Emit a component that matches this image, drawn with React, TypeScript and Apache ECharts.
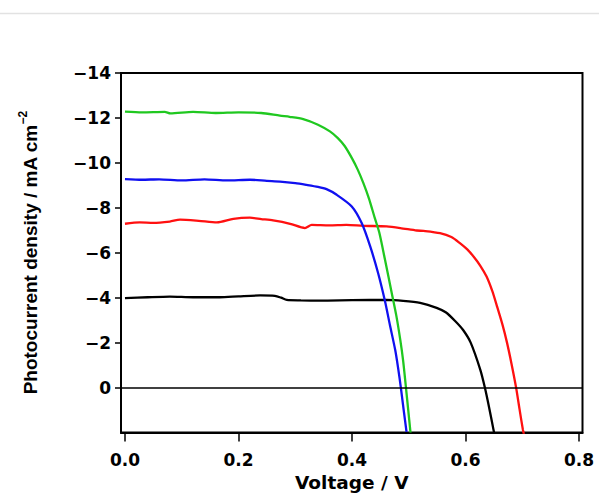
import React, { useEffect, useRef } from "react";
import * as echarts from "echarts";

// Voltage (V) / photocurrent density (mA cm^-2) pairs
const greenV = [0, 0.03, 0.07, 0.08, 0.12, 0.16, 0.2, 0.24, 0.273, 0.29, 0.314, 0.34, 0.361, 0.375, 0.387, 0.4, 0.41, 0.42, 0.43, 0.44, 0.448, 0.458, 0.47, 0.478, 0.485, 0.49, 0.495, 0.499, 0.503];
const greenJ = [-12.28, -12.25, -12.27, -12.2, -12.27, -12.22, -12.25, -12.22, -12.1, -12.05, -11.95, -11.7, -11.4, -11.1, -10.75, -10.2, -9.7, -9.1, -8.4, -7.55, -6.9, -5.7, -4.2, -3.2, -2.12, -1.2, 0, 1.0, 2.0];

const blueV = [0, 0.03, 0.06, 0.1, 0.14, 0.18, 0.22, 0.25, 0.273, 0.3, 0.32, 0.34, 0.355, 0.373, 0.3995, 0.417, 0.432, 0.446, 0.458, 0.467, 0.476, 0.481, 0.486, 0.491, 0.496];
const blueJ = [-9.28, -9.25, -9.27, -9.22, -9.27, -9.22, -9.25, -9.2, -9.17, -9.1, -9.02, -8.93, -8.83, -8.58, -8.06, -7.32, -6.28, -5.09, -3.85, -2.75, -1.68, -0.9, 0, 1.0, 1.97];

const redV = [0, 0.026, 0.05, 0.079, 0.097, 0.13, 0.162, 0.191, 0.22, 0.24, 0.261, 0.291, 0.317, 0.329, 0.36, 0.39, 0.42, 0.461, 0.485, 0.514, 0.526, 0.555, 0.575, 0.59, 0.603, 0.614, 0.626, 0.637, 0.647, 0.655, 0.665, 0.673, 0.681, 0.689, 0.695, 0.701, 0.703];
const redJ = [-7.29, -7.35, -7.33, -7.39, -7.47, -7.42, -7.35, -7.51, -7.56, -7.5, -7.44, -7.29, -7.1, -7.24, -7.22, -7.24, -7.2, -7.17, -7.1, -6.99, -6.97, -6.87, -6.7, -6.43, -6.15, -5.83, -5.42, -4.94, -4.3, -3.65, -2.8, -2.0, -1.05, 0, 0.95, 1.88, 2.1];

const blackV = [0, 0.04, 0.079, 0.12, 0.167, 0.2, 0.238, 0.264, 0.275, 0.285, 0.31, 0.344, 0.4, 0.461, 0.49, 0.52, 0.549, 0.565, 0.582, 0.596, 0.609, 0.626, 0.634, 0.642, 0.649, 0.651];
const blackJ = [-3.98, -4.02, -4.05, -4.02, -4.02, -4.06, -4.1, -4.08, -4.0, -3.9, -3.88, -3.87, -3.89, -3.9, -3.86, -3.77, -3.55, -3.35, -2.95, -2.55, -2.0, -0.79, 0, 0.95, 1.85, 2.1];

const xTicks = [0, 0.2, 0.4, 0.6, 0.8];
const yTicks = [-14, -12, -10, -8, -6, -4, -2, 0];

const pairs = (xs: number[], ys: number[]) => xs.map((x, i) => [x, ys[i]]);

export default function App() {
  const ref = useRef<HTMLDivElement>(null);
  useEffect(() => {
    if (!ref.current) return;
    const chart = echarts.init(ref.current, null, { renderer: "svg" });
    const tickFont = { fontFamily: "DejaVu Sans", fontWeight: "bold" as const, fontSize: 17, color: "#000" };
    const mkSeries = (name: string, color: string, xs: number[], ys: number[]) => ({
      name,
      type: "line",
      data: pairs(xs, ys),
      showSymbol: false,
      smooth: 0.25,
      lineStyle: { color, width: 2.3 },
      z: 3,
    });
    chart.setOption({
      animation: false,
      backgroundColor: "#fff",
      grid: {
        left: 121,
        top: 73,
        right: 16.5,
        bottom: 61.5,
        outerBoundsMode: "none",
        containLabel: false,
        show: true,
        borderColor: "#000",
        borderWidth: 2,
        backgroundColor: "transparent",
      },
      xAxis: {
        type: "value",
        min: -0.007,
        max: 0.806,
        name: "Voltage / V",
        nameLocation: "middle",
        nameGap: 38,
        nameTextStyle: { fontFamily: "DejaVu Sans", fontWeight: "bold", fontSize: 18.5, color: "#000" },
        axisLine: { show: true, onZero: false, lineStyle: { color: "#000", width: 2 } },
        axisTick: { show: true, customValues: xTicks, length: 9, lineStyle: { color: "#000", width: 1.5 } },
        axisLabel: { customValues: xTicks, margin: 19, ...tickFont, formatter: (v: number) => v.toFixed(1) },
        splitLine: { show: false },
      },
      yAxis: {
        type: "value",
        inverse: true,
        min: -14,
        max: 2,
        interval: 2,
        name: "{a|Photocurrent density / mA cm}{s|−2}",
        nameLocation: "middle",
        nameGap: 78,
        nameRotate: 90,
        nameTextStyle: {
          rich: {
            a: { fontFamily: "Liberation Sans", fontWeight: "bold", fontSize: 19, color: "#000", lineHeight: 26 },
            s: { fontFamily: "Liberation Sans", fontWeight: "bold", fontSize: 12, color: "#000", verticalAlign: "top", lineHeight: 14 },
          },
        },
        axisLine: { show: true, onZero: false, lineStyle: { color: "#000", width: 2 } },
        axisTick: { show: true, customValues: yTicks, length: 6, lineStyle: { color: "#000", width: 1.5 } },
        axisLabel: {
          customValues: yTicks,
          margin: 10,
          ...tickFont,
          formatter: (v: number) => (v === 0 ? "0" : (v < 0 ? "−" : "") + Math.abs(v)),
        },
        splitLine: { show: false },
      },
      graphic: [
        {
          type: "line",
          shape: { x1: 0, y1: 13.5, x2: 599, y2: 13.5 },
          style: { stroke: "#e2e2e2", lineWidth: 1.5 },
        },
      ],
      series: [
        {
          ...mkSeries("black", "#000000", blackV, blackJ),
          markLine: {
            silent: true,
            symbol: ["none", "none"],
            label: { show: false },
            lineStyle: { color: "#000", width: 1.5, type: "solid" },
            data: [{ yAxis: 0 }],
          },
        },
        mkSeries("red", "#ff1010", redV, redJ),
        mkSeries("blue", "#1010f0", blueV, blueJ),
        mkSeries("green", "#20c820", greenV, greenJ),
      ],
    });
    return () => chart.dispose();
  }, []);
  return <div ref={ref} style={{ position: "fixed", left: 0, top: 0, width: 599, height: 494 }} />;
}
